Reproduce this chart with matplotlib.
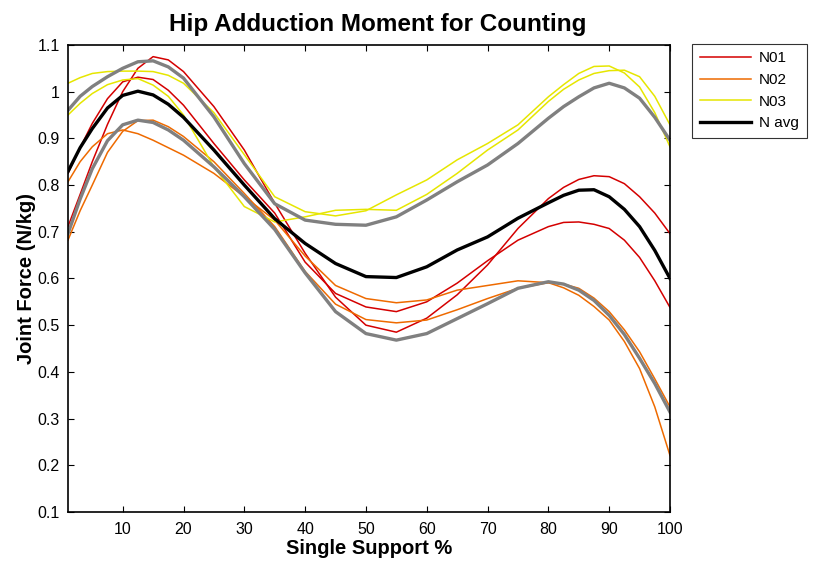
import matplotlib
matplotlib.use("Agg")
import matplotlib.pyplot as plt

plt.rcParams['font.family'] = ['Liberation Sans', 'DejaVu Sans']

# support percentage
pct = [1, 3, 5, 7.5, 10, 12.5, 15, 17.5, 20, 25, 30, 35, 40, 45, 50, 55, 60, 65, 70, 75,
       80, 82.5, 85, 87.5, 90, 92.5, 95, 97.5, 100]

# N01 trials
n01_a = [0.711, 0.780, 0.850, 0.930, 1.000, 1.050, 1.075, 1.068, 1.043, 0.968, 0.875,
         0.761, 0.654, 0.560, 0.500, 0.485, 0.515, 0.565, 0.629, 0.707,
         0.771, 0.795, 0.812, 0.820, 0.818, 0.803, 0.775, 0.740, 0.696]
n01_b = [0.825, 0.880, 0.932, 0.985, 1.021, 1.031, 1.026, 1.003, 0.971, 0.889, 0.811,
         0.740, 0.635, 0.568, 0.539, 0.529, 0.550, 0.590, 0.638, 0.682,
         0.711, 0.720, 0.721, 0.716, 0.707, 0.682, 0.645, 0.595, 0.538]
# N02 trials
n02_a = [0.807, 0.850, 0.882, 0.910, 0.918, 0.910, 0.896, 0.880, 0.864, 0.825, 0.775,
         0.725, 0.648, 0.585, 0.557, 0.548, 0.554, 0.575, 0.585, 0.595,
         0.591, 0.580, 0.564, 0.540, 0.511, 0.465, 0.407, 0.325, 0.221]
n02_b = [0.682, 0.745, 0.800, 0.870, 0.915, 0.938, 0.939, 0.925, 0.904, 0.850, 0.782,
         0.711, 0.615, 0.545, 0.512, 0.505, 0.511, 0.533, 0.557, 0.579,
         0.591, 0.588, 0.579, 0.558, 0.529, 0.490, 0.443, 0.385, 0.325]
# N03 trials
n03_a = [1.018, 1.030, 1.039, 1.043, 1.044, 1.044, 1.043, 1.035, 1.018, 0.955, 0.865,
         0.775, 0.743, 0.734, 0.745, 0.779, 0.811, 0.854, 0.889, 0.929,
         0.989, 1.015, 1.039, 1.054, 1.055, 1.040, 1.010, 0.955, 0.882]
n03_b = [0.950, 0.975, 0.996, 1.015, 1.025, 1.028, 1.014, 0.990, 0.950, 0.839, 0.754,
         0.721, 0.732, 0.746, 0.748, 0.746, 0.780, 0.825, 0.875, 0.918,
         0.979, 1.005, 1.025, 1.039, 1.045, 1.046, 1.032, 0.990, 0.929]

# average and +/- sd bands
n_avg = [0.829, 0.880, 0.921, 0.965, 0.992, 1.001, 0.993, 0.973, 0.945, 0.875, 0.800,
         0.728, 0.675, 0.632, 0.604, 0.602, 0.625, 0.661, 0.689, 0.729,
         0.762, 0.778, 0.789, 0.790, 0.775, 0.748, 0.711, 0.660, 0.600]
sd_hi = [0.960, 0.990, 1.011, 1.032, 1.050, 1.064, 1.066, 1.053, 1.029, 0.946, 0.846,
         0.760, 0.725, 0.716, 0.714, 0.732, 0.768, 0.807, 0.843, 0.889,
         0.943, 0.968, 0.989, 1.008, 1.018, 1.008, 0.986, 0.945, 0.896]
sd_lo = [0.696, 0.770, 0.835, 0.895, 0.929, 0.939, 0.934, 0.918, 0.896, 0.839, 0.775,
         0.705, 0.612, 0.529, 0.482, 0.468, 0.482, 0.514, 0.546, 0.579,
         0.593, 0.588, 0.575, 0.553, 0.521, 0.480, 0.429, 0.375, 0.314]

red = '#d40000'
orange = '#ee6a00'
yellow = '#e6e600'
grey = '#808080'

fig = plt.figure(figsize=(8.13, 5.62), dpi=100)
ax = fig.add_axes([0.0836, 0.089, 0.7405, 0.831])

l1, = ax.plot(pct, n01_a, color=red, lw=1.1, label='N01')
ax.plot(pct, n01_b, color=red, lw=1.1)
l2, = ax.plot(pct, n02_a, color=orange, lw=1.1, label='N02')
ax.plot(pct, n02_b, color=orange, lw=1.1)
l3, = ax.plot(pct, n03_a, color=yellow, lw=1.1, label='N03')
ax.plot(pct, n03_b, color=yellow, lw=1.1)
ax.plot(pct, sd_hi, color=grey, lw=2.4)
ax.plot(pct, sd_lo, color=grey, lw=2.4)
l4, = ax.plot(pct, n_avg, color='black', lw=2.4, label='N avg')

ax.set_xlim(1, 100)
ax.set_ylim(0.1, 1.1)
ax.set_xticks(range(10, 101, 10))
ax.set_yticks([0.1, 0.2, 0.3, 0.4, 0.5, 0.6, 0.7, 0.8, 0.9, 1.0, 1.1])
ax.set_yticklabels(['0.1', '0.2', '0.3', '0.4', '0.5', '0.6', '0.7', '0.8', '0.9', '1', '1.1'])
ax.tick_params(direction='in', top=True, right=True, length=4, width=0.8, labelsize=11.5)
ax.tick_params(axis='x', pad=7)
ax.tick_params(axis='y', pad=6)
for s in ax.spines.values():
    s.set_linewidth(1.2)

ax.set_title('Hip Adduction Moment for Counting', fontsize=17.5, fontweight='bold', pad=10, x=0.515)
ax.set_xlabel('Single Support %', fontsize=14.5, fontweight='bold', labelpad=2)
ax.set_ylabel('Joint Force (N/kg)', fontsize=14.5, fontweight='bold', labelpad=1)

leg = fig.legend(handles=[l1, l2, l3, l4], loc='upper left', bbox_to_anchor=(0.851, 0.922),
                 fontsize=11, frameon=True, fancybox=False, edgecolor='black',
                 handlelength=3.4, handletextpad=0.5, borderpad=0.5, labelspacing=0.5,
                 borderaxespad=0)
leg.get_frame().set_linewidth(0.8)

fig.savefig('out.png', dpi=100)
